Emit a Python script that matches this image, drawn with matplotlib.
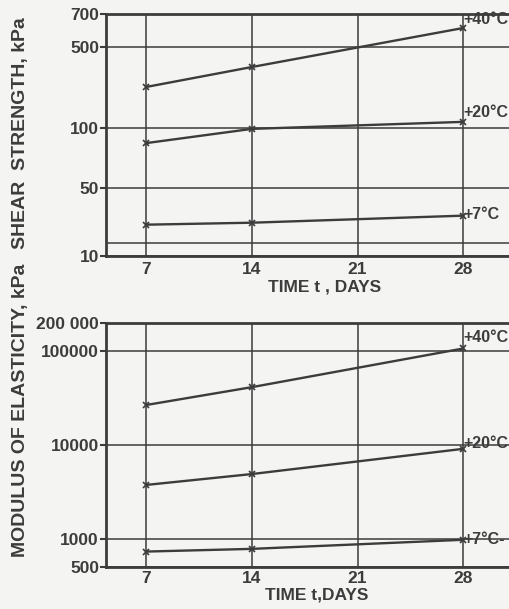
import numpy as np
import matplotlib.pyplot as plt

# days of curing
days = [7, 14, 28]
temps = ['+40°C', '+20°C', '+7°C']

# shear strength, kPa
shear_40 = [226, 336, 607]
shear_20 = [84, 99, 113]
shear_7 = [21, 22, 26]

# modulus of elasticity, kPa (lower panel)
mod_40 = [26700, 41400, 107000]
mod_20 = [3750, 4900, 9100]
mod_7 = [730, 780, 975]

shear_ticks = [10, 50, 100, 500, 700]
shear_extra_grid = [13.6]
mod_ticks = [500, 1000, 10000, 100000, 200000]
mod_ticklabels = ['500', '1000', '10000', '100000', '200 000']

# the upper panel's value axis is not a clean log axis: tick spacing on paper (px)
shear_tick_pos = [0, 68, 128, 209, 242]

ink = '#3c3c3c'
plt.rcParams['font.family'] = ['Liberation Sans', 'DejaVu Sans']
plt.rcParams['font.weight'] = 'bold'
plt.rcParams['axes.labelweight'] = 'bold'

fs = 12.5


def fwd(v):
    v = np.clip(np.asarray(v, dtype=float), 1e-9, None)
    return np.interp(np.log10(v), np.log10(shear_ticks), shear_tick_pos)


def inv(p):
    return 10 ** np.interp(np.asarray(p, dtype=float), shear_tick_pos, np.log10(shear_ticks))


def style(ax, xpad):
    ax.set_facecolor('none')
    ax.set_xlim(4.33, 31.3)
    ax.set_xticks([7, 14, 21, 28])
    ax.grid(True, color=ink, lw=1.1)
    ax.spines['right'].set_visible(False)
    for s in ['left', 'top', 'bottom']:
        ax.spines[s].set_linewidth(2)
        ax.spines[s].set_color(ink)
    ax.tick_params(axis='both', colors=ink, labelsize=fs, width=1.5, length=4, pad=1)
    ax.tick_params(axis='x', length=0, pad=xpad)
    ax.minorticks_off()


fig = plt.figure(figsize=(5.09, 6.09), dpi=100, facecolor='#f4f4f2')

# ---- shear strength
ax1 = fig.add_axes([0.208, 0.5796, 0.80, 0.3974])
ax1.set_yscale('function', functions=(fwd, inv))
ax1.set_ylim(10, 700)
style(ax1, 4.5)
ax1.set_yticks(shear_ticks)
ax1.set_yticklabels([str(t) for t in shear_ticks])
for g in shear_extra_grid:
    ax1.axhline(g, color=ink, lw=1.1)
ax1.minorticks_off()

for ys, lab, dy in zip([shear_40, shear_20, shear_7], temps, [6, 7, 1]):
    ax1.plot(days, ys, color=ink, lw=1.7, marker='x', ms=5, mew=1.2, clip_on=False)
    ax1.annotate(lab, (days[-1], ys[-1]), xytext=(0, dy), textcoords='offset points',
                 fontsize=11.5, color=ink, va='center', ha='left')
ax1.set_xlabel('TIME t , DAYS', fontsize=fs, color=ink)
ax1.xaxis.set_label_coords(0.538, -0.099)
ax1.set_ylabel('SHEAR  STRENGTH, kPa', fontsize=14, color=ink)
ax1.yaxis.set_label_coords(-0.19, 0.508)

# ---- modulus of elasticity
ax2 = fig.add_axes([0.208, 0.069, 0.80, 0.4006])
ax2.set_yscale('log')
ax2.set_ylim(500, 200000)
style(ax2, 3)
ax2.set_yticks(mod_ticks)
ax2.set_yticklabels(mod_ticklabels)
ax2.minorticks_off()

for ys, lab, dy in zip([mod_40, mod_20, mod_7], temps, [8, 4, 0]):
    ax2.plot(days, ys, color=ink, lw=1.7, marker='x', ms=5, mew=1.2, clip_on=False)
    ax2.annotate(lab + ('-' if lab == '+7°C' else ''), (days[-1], ys[-1]), xytext=(0, dy),
                 textcoords='offset points', fontsize=11.5, color=ink, va='center', ha='left')
ax2.set_xlabel('TIME t,DAYS', fontsize=fs, color=ink)
ax2.xaxis.set_label_coords(0.518, -0.086)
ax2.set_ylabel('MODULUS OF ELASTICITY, kPa', fontsize=14, color=ink)
ax2.yaxis.set_label_coords(-0.19, 0.643)

fig.savefig('out.png', dpi=100, facecolor=fig.get_facecolor())
